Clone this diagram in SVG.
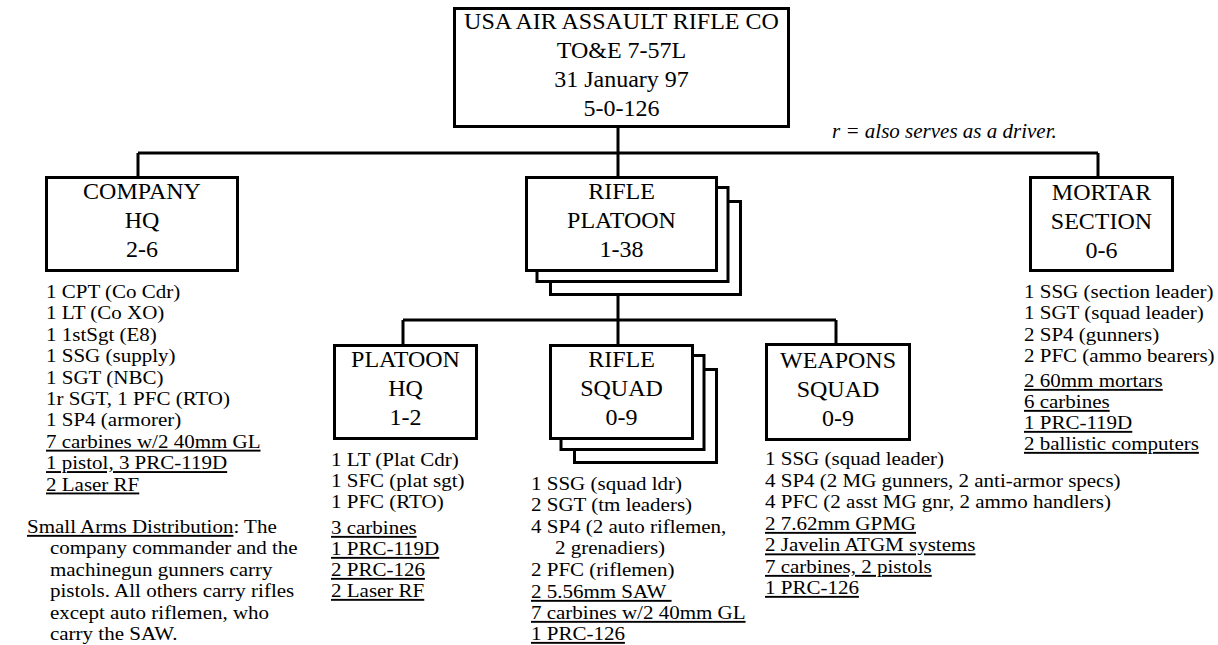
<svg xmlns="http://www.w3.org/2000/svg" width="1218" height="645" viewBox="0 0 1218 645">
<style>
  .box { fill: #fff; stroke: #000; stroke-width: 3; }
  .conn { fill: none; stroke: #000; stroke-width: 3; }
  .lbl { font-family: "Liberation Serif", "Times New Roman", serif; font-size: 24px; text-anchor: middle; fill: #000; }
  .lst { font-family: "Liberation Serif", "Times New Roman", serif; font-size: 19px; fill: #000; }
  .u { text-decoration: underline; }
  .note { font-family: "Liberation Serif", "Times New Roman", serif; font-size: 21px; font-style: italic; fill: #000; }
</style>
<rect width="1218" height="645" fill="#fff"/>
<g id="connectors">
  <path class="conn" d="M618 128 V153 M138 153 H1098 M138 153 V176 M618 153 V176 M1098 153 V176"/>
  <path class="conn" d="M618 296 V320 M403 320 H836 M403 320 V344 M618 320 V344 M836 320 V344"/>
</g>
<g id="top">
  <rect class="box" x="454.5" y="8.5" width="334" height="118"/>
  <text class="lbl" x="621.5" y="29">USA AIR ASSAULT RIFLE CO</text>
  <text class="lbl" x="621.5" y="58">TO&amp;E 7-57L</text>
  <text class="lbl" x="621.5" y="87">31 January 97</text>
  <text class="lbl" x="621.5" y="116">5-0-126</text>
</g>
<text class="note" x="832" y="138">r = also serves as a driver.</text>
<g id="company-hq">
  <rect class="box" x="46.5" y="177.5" width="191" height="93"/>
  <text class="lbl" x="142" y="199">COMPANY</text>
  <text class="lbl" x="142" y="228">HQ</text>
  <text class="lbl" x="142" y="257">2-6</text>
  <g class="lst" transform="translate(46,0) scale(1.105,1)">
    <text x="0" y="298">1 CPT (Co Cdr)</text>
    <text x="0" y="319.4">1 LT (Co XO)</text>
    <text x="0" y="340.8">1 1stSgt (E8)</text>
    <text x="0" y="362.2">1 SSG (supply)</text>
    <text x="0" y="383.6">1 SGT (NBC)</text>
    <text x="0" y="405">1r SGT, 1 PFC (RTO)</text>
    <text x="0" y="426.4">1 SP4 (armorer)</text>
    <text class="u" x="0" y="447.8">7 carbines w/2 40mm GL</text>
    <text class="u" x="0" y="469.2">1 pistol, 3 PRC-119D</text>
    <text class="u" x="0" y="490.6">2 Laser RF</text>
  </g>
</g>
<g id="small-arms" class="lst" transform="translate(27,0) scale(1.105,1)">
  <text x="0" y="533"><tspan class="u">Small Arms Distribution</tspan>: The</text>
  <text x="20.8" y="554.5">company commander and the</text>
  <text x="20.8" y="576">machinegun gunners carry</text>
  <text x="20.8" y="597.5">pistols. All others carry rifles</text>
  <text x="20.8" y="619">except auto riflemen, who</text>
  <text x="20.8" y="640.5">carry the SAW.</text>
</g>
<g id="rifle-platoon">
  <rect class="box" x="550.5" y="201.5" width="190" height="93"/>
  <rect class="box" x="537" y="187.5" width="191" height="94"/>
  <rect class="box" x="526.5" y="177.5" width="190" height="93"/>
  <text class="lbl" x="621.5" y="199">RIFLE</text>
  <text class="lbl" x="621.5" y="228">PLATOON</text>
  <text class="lbl" x="621.5" y="257">1-38</text>
</g>
<g id="mortar-section">
  <rect class="box" x="1030.5" y="177.5" width="142" height="93"/>
  <text class="lbl" x="1101.5" y="200">MORTAR</text>
  <text class="lbl" x="1101.5" y="229">SECTION</text>
  <text class="lbl" x="1101.5" y="258">0-6</text>
  <g class="lst" transform="translate(1024,0) scale(1.105,1)">
    <text x="0" y="298">1 SSG (section leader)</text>
    <text x="0" y="319.4">1 SGT (squad leader)</text>
    <text x="0" y="340.8">2 SP4 (gunners)</text>
    <text x="0" y="362.2">2 PFC (ammo bearers)</text>
    <text class="u" x="0" y="387">2 60mm mortars</text>
    <text class="u" x="0" y="408">6 carbines</text>
    <text class="u" x="0" y="429">1 PRC-119D</text>
    <text class="u" x="0" y="450">2 ballistic computers</text>
  </g>
</g>
<g id="platoon-hq">
  <rect class="box" x="334.5" y="345.5" width="142" height="93"/>
  <text class="lbl" x="405.5" y="367">PLATOON</text>
  <text class="lbl" x="405.5" y="396">HQ</text>
  <text class="lbl" x="405.5" y="425">1-2</text>
  <g class="lst" transform="translate(331,0) scale(1.105,1)">
    <text x="0" y="466.5">1 LT (Plat Cdr)</text>
    <text x="0" y="487.5">1 SFC (plat sgt)</text>
    <text x="0" y="508.5">1 PFC (RTO)</text>
    <text class="u" x="0" y="534">3 carbines</text>
    <text class="u" x="0" y="555">1 PRC-119D</text>
    <text class="u" x="0" y="576">2 PRC-126</text>
    <text class="u" x="0" y="597">2 Laser RF</text>
  </g>
</g>
<g id="rifle-squad">
  <rect class="box" x="574.5" y="369.5" width="142" height="93"/>
  <rect class="box" x="561" y="355.5" width="143" height="94"/>
  <rect class="box" x="550.5" y="345.5" width="142" height="93"/>
  <text class="lbl" x="621.5" y="367">RIFLE</text>
  <text class="lbl" x="621.5" y="396">SQUAD</text>
  <text class="lbl" x="621.5" y="425">0-9</text>
  <g class="lst" transform="translate(531,0) scale(1.105,1)">
    <text x="0" y="490">1 SSG (squad ldr)</text>
    <text x="0" y="511.5">2 SGT (tm leaders)</text>
    <text x="0" y="533">4 SP4 (2 auto riflemen,</text>
    <text x="21.7" y="554.5">2 grenadiers)</text>
    <text x="0" y="576">2 PFC (riflemen)</text>
    <text class="u" x="0" y="598" xml:space="preserve">2 5.56mm SAW&#160;</text>
    <text class="u" x="0" y="619">7 carbines w/2 40mm GL</text>
    <text class="u" x="0" y="640">1 PRC-126</text>
  </g>
</g>
<g id="weapons-squad">
  <rect class="box" x="766.5" y="344.5" width="143" height="95"/>
  <text class="lbl" x="838" y="368">WEAPONS</text>
  <text class="lbl" x="838" y="397">SQUAD</text>
  <text class="lbl" x="838" y="426">0-9</text>
  <g class="lst" transform="translate(765,0) scale(1.105,1)">
    <text x="0" y="465.5">1 SSG (squad leader)</text>
    <text x="0" y="487">4 SP4 (2 MG gunners, 2 anti-armor specs)</text>
    <text x="0" y="508.5">4 PFC (2 asst MG gnr, 2 ammo handlers)</text>
    <text class="u" x="0" y="530">2 7.62mm GPMG</text>
    <text class="u" x="0" y="551.5">2 Javelin ATGM systems</text>
    <text class="u" x="0" y="573">7 carbines, 2 pistols</text>
    <text class="u" x="0" y="594">1 PRC-126</text>
  </g>
</g>
</svg>
